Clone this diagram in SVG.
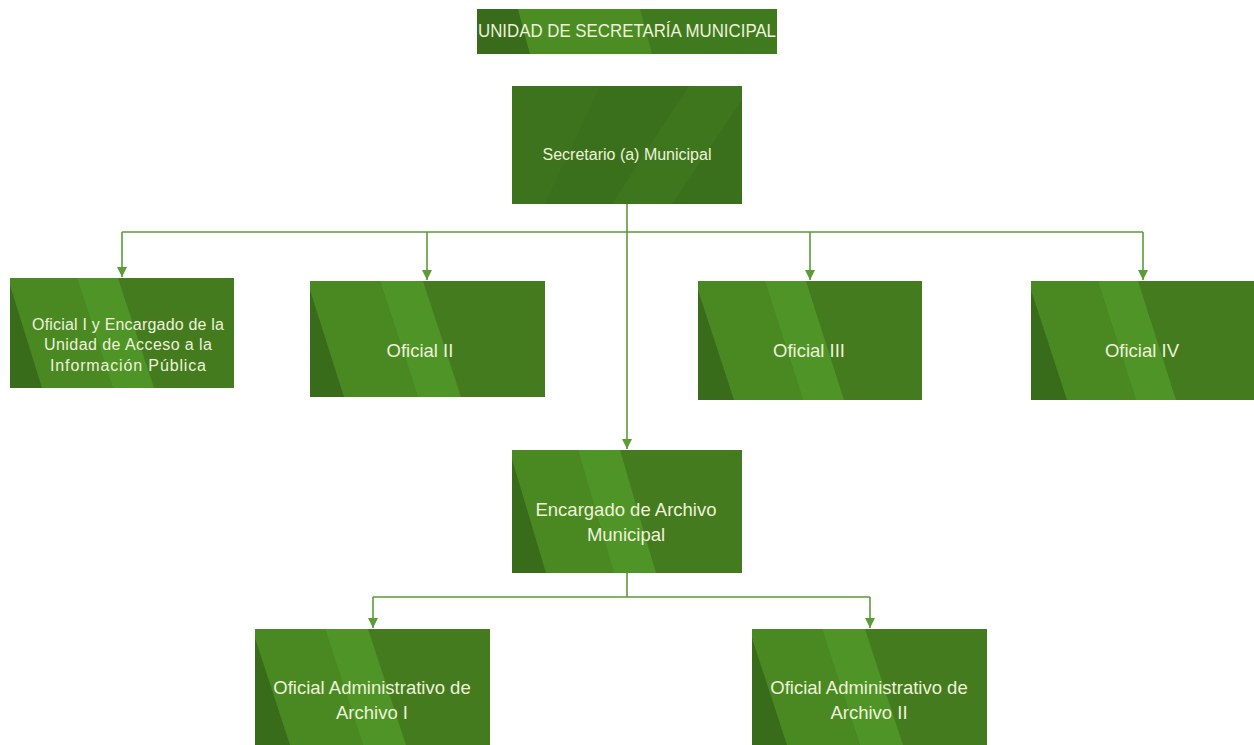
<svg xmlns="http://www.w3.org/2000/svg" width="1254" height="745" viewBox="0 0 1254 745">
<defs>
<style>
.base{fill:#437b1e}
.b1{fill:#4a8922}
.b2{fill:#4f9426}
.dk{fill:#386c1a}
.t{font-family:"Liberation Sans",Arial,sans-serif;fill:#edf2d9;text-anchor:middle}
.big{font-size:18.5px}
.sm{font-size:16px}
.conn{stroke:#5c9b37;stroke-width:1.6;fill:none}
</style>
<marker id="ah" viewBox="0 0 10 10" refX="10" refY="5" markerWidth="10" markerHeight="10" markerUnits="userSpaceOnUse" orient="auto">
<path d="M0,0 L10,5 L0,10 z" fill="#5c9b37"/>
</marker>
</defs>
<rect width="1254" height="745" fill="#ffffff"/>

<g id="title">
<rect x="477" y="9" width="300" height="45" fill="#3f7a1e"/>
<polygon points="477,9 518,9 530,54 477,54" fill="#386c1a"/>
<polygon points="518,9 640,9 652,54 530,54" fill="#4b8d23"/>
<text class="t" x="627" y="37" font-size="19" textLength="298" lengthAdjust="spacingAndGlyphs">UNIDAD DE SECRETARÍA MUNICIPAL</text>
</g>

<g id="secretario">
<rect x="512" y="86" width="230" height="118" fill="#3a701b"/>
<polygon points="512,86 600,86 545,204 512,204" fill="#3c731c"/>
<polygon points="612,204 689,86 742,86 742,100 672,204" fill="#3d761d"/>
<text class="t" x="627" y="160" font-size="16">Secretario (a) Municipal</text>
</g>

<g id="connectors">
<path class="conn" d="M627,204 V232 M122,232 H1143"/>
<path class="conn" d="M122,232 V277" marker-end="url(#ah)"/>
<path class="conn" d="M427,232 V280" marker-end="url(#ah)"/>
<path class="conn" d="M810,232 V280" marker-end="url(#ah)"/>
<path class="conn" d="M1143,232 V280" marker-end="url(#ah)"/>
<path class="conn" d="M627,232 V449" marker-end="url(#ah)"/>
<path class="conn" d="M627,573 V597 M373,597 H870"/>
<path class="conn" d="M373,597 V628" marker-end="url(#ah)"/>
<path class="conn" d="M870,597 V628" marker-end="url(#ah)"/>
</g>

<g id="oficial1">
<rect class="base" x="10" y="278" width="224" height="110"/>
<polygon class="b1" points="10,278 77,278 113,388 10,388"/>
<polygon class="b2" points="77,278 118,278 154,388 113,388"/>
<polygon class="dk" points="10,285 42,388 10,388"/>
<text class="t sm" x="128" y="330" textLength="192" lengthAdjust="spacing">Oficial I y Encargado de la</text>
<text class="t sm" x="128" y="350" textLength="168" lengthAdjust="spacing">Unidad de Acceso a la</text>
<text class="t sm" x="128" y="371" textLength="156" lengthAdjust="spacing">Información Pública</text>
</g>

<g id="oficial2">
<rect class="base" x="310" y="281" width="235" height="116"/>
<polygon class="b1" points="310,281 380,281 418,397 310,397"/>
<polygon class="b2" points="380,281 423,281 461,397 418,397"/>
<polygon class="dk" points="310,290 344,397 310,397"/>
<text class="t big" x="420" y="357">Oficial II</text>
</g>

<g id="oficial3">
<rect class="base" x="698" y="281" width="224" height="119"/>
<polygon class="b1" points="698,281 765,281 803,400 698,400"/>
<polygon class="b2" points="765,281 806,281 844,400 803,400"/>
<polygon class="dk" points="698,290 734,400 698,400"/>
<text class="t big" x="809" y="357">Oficial III</text>
</g>

<g id="oficial4">
<rect class="base" x="1031" y="281" width="223" height="119"/>
<polygon class="b1" points="1031,281 1098,281 1136,400 1031,400"/>
<polygon class="b2" points="1098,281 1138,281 1176,400 1136,400"/>
<polygon class="dk" points="1031,290 1067,400 1031,400"/>
<text class="t big" x="1142" y="357">Oficial IV</text>
</g>

<g id="encargado">
<rect class="base" x="512" y="450" width="230" height="123"/>
<polygon class="b1" points="512,450 578,450 614,573 512,573"/>
<polygon class="b2" points="578,450 620,450 656,573 614,573"/>
<polygon class="dk" points="512,459 546,573 512,573"/>
<text class="t big" x="626" y="516">Encargado de Archivo</text>
<text class="t big" x="626" y="541">Municipal</text>
</g>

<g id="admin1">
<rect class="base" x="255" y="629" width="235" height="116"/>
<polygon class="b1" points="255,629 325,629 363,745 255,745"/>
<polygon class="b2" points="325,629 368,629 406,745 363,745"/>
<polygon class="dk" points="255,638 290,745 255,745"/>
<text class="t big" x="372" y="694">Oficial Administrativo de</text>
<text class="t big" x="372" y="719">Archivo I</text>
</g>

<g id="admin2">
<rect class="base" x="752" y="629" width="235" height="116"/>
<polygon class="b1" points="752,629 822,629 860,745 752,745"/>
<polygon class="b2" points="822,629 865,629 903,745 860,745"/>
<polygon class="dk" points="752,638 787,745 752,745"/>
<text class="t big" x="869" y="694">Oficial Administrativo de</text>
<text class="t big" x="869" y="719">Archivo II</text>
</g>
</svg>
